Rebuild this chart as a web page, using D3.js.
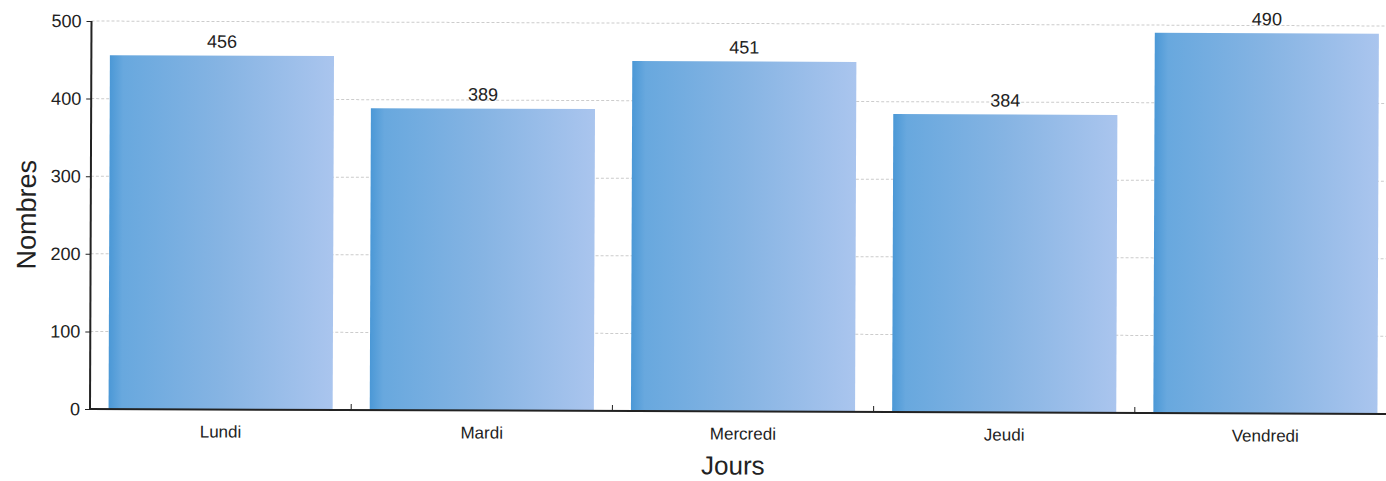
<!DOCTYPE html>
<html>
<head>
<meta charset="utf-8">
<script src="https://cdn.jsdelivr.net/npm/d3@7"></script>
<style>
body { margin: 0; background: #fff; }
text { font-family: "Liberation Sans", Arial, sans-serif; fill: #222; }
</style>
</head>
<body>
<script>
/*data*/
var jours = ["Lundi", "Mardi", "Mercredi", "Jeudi", "Vendredi"]
var nombres = [456, 389, 451, 384, 490]
var yTicks = [0, 100, 200, 300, 400, 500]

var width = 1386, height = 481
var plotLeft = 90, plotTop = 21, plotBottom = 409, plotRight = 1396

var svg = d3.select("body").append("svg")
			.attr("width", width)
			.attr("height", height)

var defs = svg.append("defs")
var grad = defs.append("linearGradient")
			.attr("id", "barGrad")
			.attr("x1", "0%").attr("x2", "100%")
			.attr("y1", "0%").attr("y2", "0%")
grad.append("stop").attr("offset", "0%").attr("stop-color", "#4b98d6")
grad.append("stop").attr("offset", "6%").attr("stop-color", "#68a8de")
grad.append("stop").attr("offset", "50%").attr("stop-color", "#86b4e3")
grad.append("stop").attr("offset", "100%").attr("stop-color", "#aac5ee")

/*scan is slightly tilted*/
var g = svg.append("g")
		.attr("transform", "rotate(0.22, " + plotLeft + ", " + plotBottom + ")")

var xScale = d3.scaleBand()
			.domain(jours)
			.range([plotLeft, plotRight])
			.paddingInner(0.142)
			.paddingOuter(0.071)

var yScale = d3.scaleLinear()
			.domain([0, 500])
			.range([plotBottom, plotTop])

/*grid lines*/
g.append("g").selectAll("line")
	.data(yTicks.filter(function(d){return d > 0}))
	.enter().append("line")
	.attr("x1", plotLeft).attr("x2", plotRight)
	.attr("y1", function(d){return yScale(d)})
	.attr("y2", function(d){return yScale(d)})
	.attr("stroke", "#cccccc")
	.attr("stroke-width", 1)
	.attr("stroke-dasharray", "3,2")

/*bars*/
g.append("g").selectAll("rect")
	.data(nombres)
	.enter().append("rect")
	.attr("x", function(d, i){return xScale(jours[i])})
	.attr("y", function(d){return yScale(d)})
	.attr("width", xScale.bandwidth())
	.attr("height", function(d){return plotBottom - yScale(d)})
	.attr("fill", "url(#barGrad)")

/*value labels*/
g.append("g").selectAll("text")
	.data(nombres)
	.enter().append("text")
	.attr("x", function(d, i){return xScale(jours[i]) + xScale.bandwidth() / 2})
	.attr("y", function(d){return yScale(d) - 8})
	.attr("text-anchor", "middle")
	.style("font-size", "18px")
	.text(function(d){return d})

/*axes*/
var yAxis = d3.axisLeft(yScale).tickValues(yTicks).tickSize(5).tickPadding(5)
var yG = g.append("g")
	.attr("transform", "translate(" + plotLeft + ",0)")
	.call(yAxis)
yG.select(".domain").attr("stroke", "#222").attr("stroke-width", 2).attr("d", "M0," + plotTop + "V" + plotBottom)
yG.selectAll("line").attr("stroke", "#222")
yG.selectAll("text").style("font-size", "18px").attr("fill", "#222")

var xAxis = d3.axisBottom(xScale).tickSize(0).tickPadding(16)
var xG = g.append("g")
	.attr("transform", "translate(0," + plotBottom + ")")
	.call(xAxis)
xG.select(".domain").attr("stroke", "#222").attr("stroke-width", 2).attr("d", "M" + plotLeft + ",0H" + plotRight)
xG.selectAll("text").style("font-size", "17px").attr("fill", "#222")

/*category boundary ticks*/
g.append("g").selectAll("line")
	.data(jours.slice(1))
	.enter().append("line")
	.attr("x1", function(d){return xScale(d) - xScale.step() * 0.071})
	.attr("x2", function(d){return xScale(d) - xScale.step() * 0.071})
	.attr("y1", plotBottom).attr("y2", plotBottom - 6)
	.attr("stroke", "#222")

/*axis titles*/
g.append("text")
	.attr("x", (plotLeft + plotRight) / 2 - 10)
	.attr("y", 472)
	.attr("text-anchor", "middle")
	.style("font-size", "26px")
	.text("Jours")

g.append("text")
	.attr("transform", "translate(35, " + ((plotTop + plotBottom) / 2) + ") rotate(-90)")
	.attr("text-anchor", "middle")
	.style("font-size", "27px")
	.text("Nombres")
</script>
</body>
</html>
